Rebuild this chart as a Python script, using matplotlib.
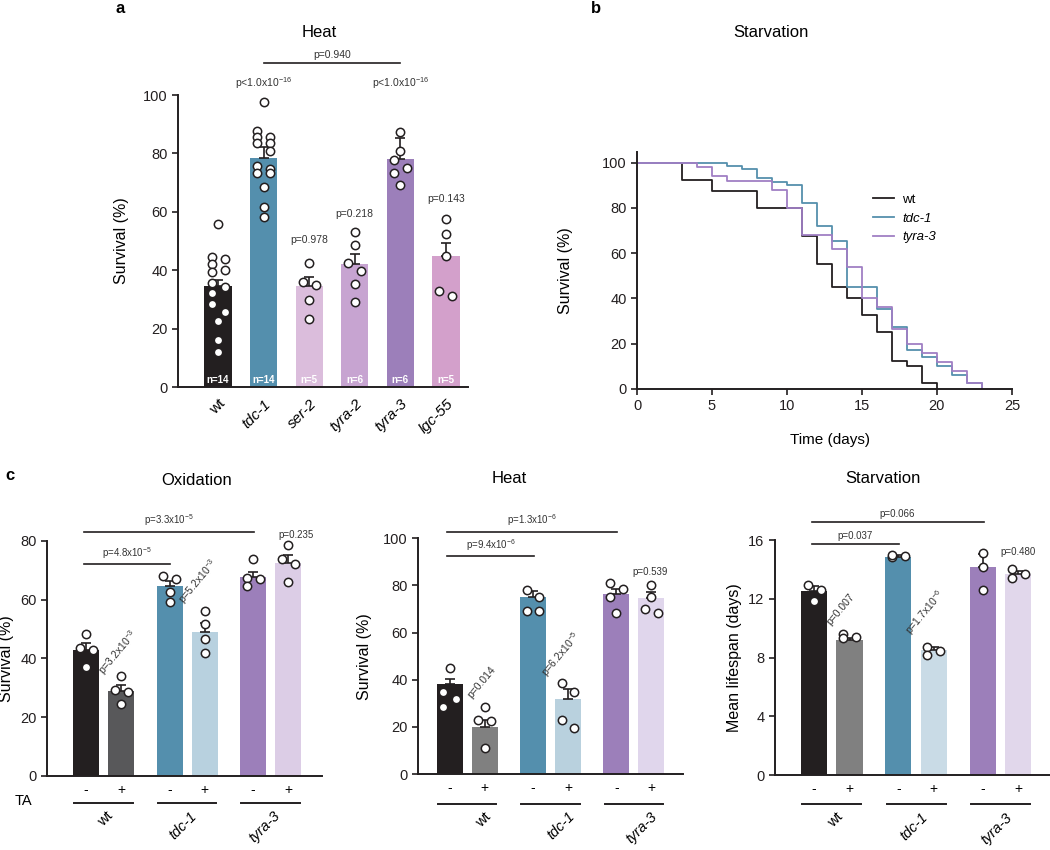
import numpy as np
import matplotlib
matplotlib.use('Agg')
import matplotlib.pyplot as plt
from matplotlib import transforms

plt.rcParams['font.family'] = ['Liberation Sans', 'DejaVu Sans']
plt.rcParams['mathtext.fontset'] = 'custom'
plt.rcParams['mathtext.rm'] = 'Liberation Sans'
plt.rcParams['mathtext.it'] = 'Liberation Sans:italic'
plt.rcParams['mathtext.bf'] = 'Liberation Sans:bold'
plt.rcParams['axes.linewidth'] = 1.4

INK = '#231f20'

# ---------- panel a: heat survival per strain ----------
a_strains = ['wt', 'tdc-1', 'ser-2', 'tyra-2', 'tyra-3', 'lgc-55']
a_means = [34.5, 78.5, 34.5, 42.0, 78.0, 44.8]
a_sem = [2.2, 3.8, 3.3, 3.5, 7.4, 4.6]
a_points = [
    [55.8, 44.6, 43.8, 42.1, 40.1, 39.3, 35.7, 34.4, 32.3, 28.3, 25.8, 22.6, 16.1, 12.1],
    [97.5, 87.8, 85.7, 85.7, 83.4, 83.4, 80.9, 75.8, 74.7, 73.2, 73.2, 68.6, 61.8, 58.1],
    [42.6, 35.8, 34.9, 29.8, 23.4],
    [53.2, 48.5, 42.4, 39.7, 35.2, 29.1],
    [87.2, 80.9, 77.6, 74.9, 73.4, 69.2],
    [57.4, 52.3, 44.9, 32.9, 31.3],
]
a_n = [14, 14, 5, 6, 6, 5]
a_pvals = ['', 'p<1.0x10$^{-16}$', 'p=0.978', 'p=0.218', 'p<1.0x10$^{-16}$', 'p=0.143']
a_bracket_p = 'p=0.940'

# ---------- panel b: starvation survival curves ----------
b_wt_days = [0, 3, 5, 8, 11, 12, 13, 14, 15, 16, 17, 18, 19, 20]
b_wt_surv = [100, 92.5, 87.5, 80, 67.5, 55, 45, 40, 32.5, 25, 12.5, 10, 2.5, 0]
b_tdc_days = [0, 6, 7, 8, 9, 10, 11, 12, 13, 14, 16, 17, 18, 19, 20, 21, 22, 23]
b_tdc_surv = [100, 98.5, 97, 93, 91.5, 90, 82, 72, 65.5, 45, 35.3, 27.5, 17.2, 14, 10, 6, 2.5, 0]
b_tyra_days = [0, 4, 5, 6, 9, 10, 11, 13, 14, 15, 16, 17, 18, 19, 20, 21, 22, 23]
b_tyra_surv = [100, 98, 94, 92, 88, 80, 68, 62, 54, 40.4, 36.4, 26.5, 20, 16, 12, 8, 2.5, 0]

# ---------- panel c: TA treatment (order: wt -, wt +, tdc-1 -, tdc-1 +, tyra-3 -, tyra-3 +) ----------
c_groups = ['wt', 'tdc-1', 'tyra-3']
c_signs = ['-', '+']

ox_means = [43.0, 29.0, 64.5, 49.0, 67.5, 72.5]
ox_sem = [2.1, 1.8, 1.9, 3.0, 2.0, 2.5]
ox_points = [[48.3, 43.4, 42.9, 37.2], [34.0, 29.3, 28.5, 24.4], [68.1, 66.9, 62.7, 59.3],
             [56.2, 51.7, 46.6, 41.7], [73.7, 67.2, 66.9, 64.5], [78.6, 73.7, 72.0, 65.8]]
ox_p_brackets = ['p=4.8x10$^{-5}$', 'p=3.3x10$^{-5}$']
ox_p_ta = ['p=3.2x10$^{-3}$', 'p=5.2x10$^{-3}$', 'p=0.235']

heat_means = [38.0, 20.1, 75.3, 31.8, 76.5, 74.5]
heat_sem = [2.3, 2.7, 2.2, 4.4, 1.9, 2.6]
heat_points = [[44.8, 34.9, 31.8, 28.6], [28.6, 22.9, 22.6, 10.9], [78.1, 75.2, 69.3, 69.3],
               [38.5, 34.9, 22.9, 19.4], [81.2, 78.4, 75.0, 68.2], [80.2, 75.2, 70.0, 68.4]]
heat_p_brackets = ['p=9.4x10$^{-6}$', 'p=1.3x10$^{-6}$']
heat_p_ta = ['p=0.014', 'p=6.2x10$^{-5}$', 'p=0.539']

starv_means = [12.55, 9.2, 14.86, 8.5, 14.18, 13.7]
starv_sem = [0.3, 0.15, 0.1, 0.25, 0.85, 0.2]
starv_points = [[12.93, 12.6, 11.87], [9.37, 9.6, 9.3], [14.9, 14.86, 15.0],
                [8.74, 8.17, 8.46], [15.13, 14.18, 12.6], [14.0, 13.38, 13.68]]
starv_p_brackets = ['p=0.037', 'p=0.066']
starv_p_ta = ['p=0.007', 'p=1.7x10$^{-6}$', 'p=0.480']


def swarm_x(ax, x0, vals, d=9.0):
    # simple two-column swarm, in pixels
    h = 0.72 * d
    ys = [ax.transData.transform((x0, v))[1] for v in vals]
    px_per_unit = ax.transData.transform((1, 0))[0] - ax.transData.transform((0, 0))[0]
    order = np.argsort(ys)[::-1]
    offs = np.zeros(len(vals))
    prev = None
    for i in order:
        if prev is not None and abs(ys[prev] - ys[i]) < 0.95 * d:
            if offs[prev] == 0:
                offs[prev] = -h
            offs[i] = -offs[prev]
        prev = i
    return x0 + offs / px_per_unit


def bars_with_points(ax, pos, means, sems, pts, colors, width):
    ax.bar(pos, means, width=width, color=colors, zorder=1)
    ax.errorbar(pos, means, yerr=[np.zeros(len(sems)), sems], fmt='none', ecolor=INK,
                elinewidth=1.2, capsize=3.5, capthick=1.2, zorder=2)
    for x0, vals in zip(pos, pts):
        xs = swarm_x(ax, x0, vals)
        ax.plot(xs, vals, 'o', ms=6, mfc='white', mec=INK, mew=1.1, zorder=3, clip_on=False)


def style_axes(ax):
    ax.spines['top'].set_visible(False)
    ax.spines['right'].set_visible(False)
    ax.spines['left'].set_color(INK)
    ax.spines['bottom'].set_color(INK)
    ax.tick_params(axis='y', length=4, width=1.2, labelsize=10.5, colors=INK)


fig = plt.figure(figsize=(10.5, 8.5), dpi=100)

# ================= panel a =================
ax_a = fig.add_axes([0.1695, 0.5447, 0.276, 0.3435])
a_pos = np.arange(len(a_strains))
ax_a.set_xlim(-0.88, 5.48)
ax_a.set_ylim(0, 100)
a_colors = [INK, '#548fad', '#dbbddc', '#c7a4d1', '#9c7fba', '#d3a0cb']
bars_with_points(ax_a, a_pos, a_means, a_sem, a_points, a_colors, 0.6)
style_axes(ax_a)
ax_a.set_yticks(range(0, 101, 20))
ax_a.set_ylabel('Survival (%)', fontsize=11.5)
ax_a.yaxis.set_label_coords(-0.17, 0.5)
ax_a.set_xticks(a_pos)
ax_a.set_xticklabels(a_strains, rotation=45, ha='right', rotation_mode='anchor', fontsize=11)
for lbl in ax_a.get_xticklabels()[1:]:
    lbl.set_style('italic')
ax_a.tick_params(axis='x', length=0, pad=7)
for x, n in zip(a_pos, a_n):
    ax_a.text(x, 0.6, f'n={n}', color='white', fontweight='bold', fontsize=7,
              ha='center', va='bottom', zorder=4)
a_p_y = [None, 104.1, 50.3, 59.2, 104.1, 64.4]
for x, p, y in zip(a_pos, a_pvals, a_p_y):
    if p:
        ax_a.text(x, y, p, fontsize=7.5, ha='center', va='center', color='#333333')
ax_a.plot([1, 4], [110.8, 110.8], color=INK, lw=1.2, clip_on=False)
ax_a.text(2.5, 113.6, a_bracket_p, fontsize=7.5, ha='center', va='center', color='#333333')
fig.text(0.304, 0.962, 'Heat', fontsize=12, ha='center', va='center')
fig.text(0.114, 0.99, 'a', fontsize=12, fontweight='bold', ha='center', va='center')

# ================= panel b =================
ax_b = fig.add_axes([0.6067, 0.5424, 0.357, 0.2788])
ax_b.step(b_wt_days, b_wt_surv, where='post', color=INK, lw=1.3, label='wt')
ax_b.step(b_tdc_days, b_tdc_surv, where='post', color='#5590ad', lw=1.3, label='tdc-1')
ax_b.step(b_tyra_days, b_tyra_surv, where='post', color='#a07fc4', lw=1.3, label='tyra-3')
ax_b.set_xlim(0, 25)
ax_b.set_ylim(0, 104.7)
ax_b.set_xticks(range(0, 26, 5))
ax_b.set_yticks(range(0, 101, 20))
style_axes(ax_b)
ax_b.tick_params(axis='x', length=4, width=1.2, labelsize=10.5, colors=INK)
ax_b.set_ylabel('Survival (%)', fontsize=11.5)
ax_b.yaxis.set_label_coords(-0.17, 0.5)
ax_b.set_xlabel('Time (days)', fontsize=11)
ax_b.xaxis.set_label_coords(0.515, -0.185)
leg = ax_b.legend(frameon=False, loc='upper left', bbox_to_anchor=(0.63, 0.825), fontsize=9.5,
                  handlelength=1.6, handletextpad=0.6, labelspacing=0.5, borderpad=0,
                  borderaxespad=0)
for t in leg.get_texts()[1:]:
    t.set_style('italic')
fig.text(0.734, 0.962, 'Starvation', fontsize=12, ha='center', va='center')
fig.text(0.568, 0.99, 'b', fontsize=12, fontweight='bold', ha='center', va='center')

# ================= panel c =================
c_pos = np.array([g + s * 0.21 for g in range(3) for s in (-1, 1)])


def draw_c(rect, means, sems, pts, colors, ylim, yticks, ylabel, ylabel_x, xlim,
           p_brackets, bracket_y, p_ta, ta_xy, lab_dx, lab_y, line_y):
    ax = fig.add_axes(rect)
    ax.set_xlim(*xlim)
    ax.set_ylim(*ylim)
    bars_with_points(ax, c_pos, means, sems, pts, colors, 0.31)
    style_axes(ax)
    ax.set_yticks(yticks)
    ax.set_ylabel(ylabel, fontsize=11.5)
    ax.yaxis.set_label_coords(ylabel_x, 0.5)
    ax.set_xticks(c_pos)
    ax.set_xticklabels(c_signs * 3, fontsize=10)
    ax.tick_params(axis='x', length=0, pad=5)
    tr = transforms.blended_transform_factory(ax.transData, ax.transAxes)
    for g, name in enumerate(c_groups):
        ax.plot([g - 0.35, g + 0.35], [line_y, line_y], color=INK, lw=1.4,
                transform=tr, clip_on=False)
        ax.text(g + lab_dx, lab_y, name, transform=tr, rotation=45, rotation_mode='anchor',
                ha='right', va='top', fontsize=10.5,
                style='normal' if name == 'wt' else 'italic')
    # comparison brackets against wt
    for p, y, j in zip(p_brackets, bracket_y, (2, 4)):
        x0, x1 = c_pos[0] - 0.03, c_pos[j] + 0.01
        ax.plot([x0, x1], [y, y], color=INK, lw=1.2, clip_on=False)
        ax.annotate(p, xy=((x0 + x1) / 2, y), xytext=(0, 2.5), textcoords='offset points',
                    ha='center', va='bottom', fontsize=7, color='#333333',
                    annotation_clip=False)
    # TA effect within strain
    for p, (x, y) in zip(p_ta[:2], ta_xy[:2]):
        ax.text(x, y, p, rotation=50, rotation_mode='anchor', ha='left', va='bottom',
                fontsize=7.5, color='#333333')
    x, y = ta_xy[2]
    ax.text(x, y, p_ta[2], ha='center', va='center', fontsize=7, color='#333333')
    return ax


ax_ox = draw_c([0.0448, 0.0871, 0.262, 0.2768], ox_means, ox_sem, ox_points,
               [INK, '#58585a', '#548fad', '#b8d1df', '#9c7fba', '#dccde6'],
               (0, 80), range(0, 81, 20), 'Survival (%)', -0.12, (-0.677, 2.617),
               ox_p_brackets, [72, 83], ox_p_ta, [(0.045, 33.2), (0.996, 57.6), (2.31, 82)],
               0.03, -0.14, -0.115)
ax_ox.text(-0.087, -0.105, 'TA', transform=ax_ox.transAxes, ha='center', va='center',
           fontsize=10.5)

ax_ht = draw_c([0.3984, 0.0894, 0.252, 0.2773], heat_means, heat_sem, heat_points,
               [INK, '#808080', '#548fad', '#b9d1de', '#9c7fba', '#e0d6ec'],
               (0, 100), range(0, 101, 20), 'Survival (%)', -0.175, (-0.587, 2.59),
               heat_p_brackets, [92.3, 102.7], heat_p_ta,
               [(0.073, 31.4), (0.994, 39.9), (2.19, 85.7)],
               0.2, -0.15, -0.127)

ax_st = draw_c([0.7381, 0.0882, 0.262, 0.2765], starv_means, starv_sem, starv_points,
               [INK, '#808080', '#548fad', '#c9dbe6', '#9c7fba', '#e1d7eb'],
               (0, 16), range(0, 17, 4), 'Mean lifespan (days)', -0.12, (-0.674, 2.59),
               starv_p_brackets, [15.7, 17.2], starv_p_ta,
               [(0.0, 10.1), (0.975, 9.3), (2.21, 15.2)],
               0.05, -0.15, -0.123)

fig.text(0.1876, 0.435, 'Oxidation', fontsize=12, ha='center', va='center')
fig.text(0.4848, 0.4365, 'Heat', fontsize=12, ha='center', va='center')
fig.text(0.841, 0.4365, 'Starvation', fontsize=12, ha='center', va='center')
fig.text(0.0095, 0.441, 'c', fontsize=12, fontweight='bold', ha='center', va='center')

fig.savefig('out.png', dpi=100)
